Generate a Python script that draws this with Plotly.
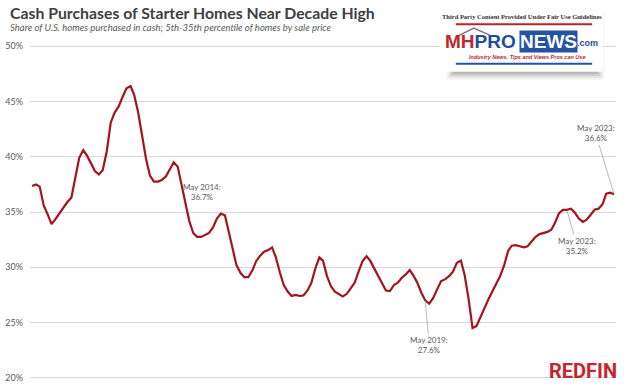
import pandas as pd
import plotly.graph_objects as go

# ---- data ----
start_month = "2011-01-01"
cash_share = [
    37.36, 37.5, 37.3, 35.6, 34.8, 33.9, 34.35, 34.9, 35.45, 35.9, 36.3, 38.1,
    39.9, 40.6, 40.1, 39.4, 38.7, 38.4, 38.8, 40.5, 43.1, 44.0, 44.55, 45.4,
    46.2, 46.4, 45.6, 44.0, 42.0, 39.8, 38.3, 37.75, 37.75, 37.9, 38.2, 38.9,
    39.5, 39.1, 37.5, 35.6, 34.2, 33.1, 32.75, 32.75, 32.9, 33.1, 33.6, 34.4,
    34.85, 34.7, 33.3, 31.6, 30.2, 29.5, 29.1, 29.1, 29.7, 30.55, 31.05, 31.4,
    31.55, 31.8, 30.9, 29.55, 28.4, 27.8, 27.4, 27.5, 27.4, 27.45, 27.9, 28.6,
    29.9, 30.9, 30.6, 29.2, 28.3, 27.8, 27.6, 27.35, 27.6, 28.1, 28.6, 29.6,
    30.55, 31.0, 30.6, 29.9, 29.2, 28.5, 27.9, 27.85, 28.4, 28.6, 29.05, 29.35,
    29.75, 29.2, 28.6, 27.7, 27.0, 26.7, 27.2, 28.0, 28.75, 28.9, 29.2, 29.6,
    30.4, 30.6, 29.3, 27.1, 24.5, 24.7, 25.5, 26.35, 27.1, 27.8, 28.5, 29.2,
    30.2, 31.5, 31.95, 32.0, 31.9, 31.8, 31.9, 32.3, 32.75, 33.0, 33.1, 33.2,
    33.4, 34.1, 34.9, 35.2, 35.2, 35.3, 34.95, 34.4, 34.1, 34.3, 34.75, 35.2,
    35.3, 35.7, 36.65, 36.75, 36.6,
]
months = pd.date_range(start_month, periods=len(cash_share), freq="MS")

y_ticks = [20, 25, 30, 35, 40, 45, 50]
y_tick_labels = ["20%", "25%", "30%", "35%", "40%", "45%", "50%"]

title_text = "Cash Purchases of Starter Homes Near Decade High"
subtitle_text = "Share of U.S. homes purchased in cash; 5th-35th percentile of homes by sale price"

# callouts: (index into series, first line, second line)
callouts = [
    (100, "May 2019:", "27.6%"),
    (136, "May 2023:", "35.2%"),
    (148, "May 2023:", "36.6%"),
]
note_2014 = (40, "May 2014:", "36.7%")

# ---- layout geometry ----
W, H = 624, 388
ML, MR, MT, MB = 27, 8, 44, 5
PW, PH = W - ML - MR, H - MT - MB


def px(xp):
    return (xp - ML) / PW


def py(yp):
    return (H - MB - yp) / PH


LINE = "#A3141E"
TXT = "#595959"

fig = go.Figure()
fig.add_trace(go.Scatter(
    x=months, y=cash_share, mode="lines",
    line=dict(color=LINE, width=2.2),
    hoverinfo="skip", showlegend=False,
))

annotations = []
# title + subtitle
annotations.append(dict(
    text=f"<b>{title_text}</b>", xref="paper", yref="paper",
    x=px(5), y=py(12), xanchor="left", yanchor="middle", showarrow=False,
    font=dict(family="Lato, Open Sans, sans-serif", size=15.8, color="#404040"),
))
annotations.append(dict(
    text=f"<i>{subtitle_text}</i>", xref="paper", yref="paper",
    x=px(5), y=py(27), xanchor="left", yanchor="middle", showarrow=False,
    font=dict(family="Lato, Open Sans, sans-serif", size=9.5, color=TXT),
))

# callouts with leader lines
offsets = {100: (4, 45), 136: (10, 36), 148: (-18.5, -61)}
for idx, l1, l2 in callouts:
    ax, ay = offsets[idx]
    annotations.append(dict(
        x=months[idx], y=cash_share[idx], text=f"{l1}<br>{l2}",
        showarrow=True, arrowhead=0, arrowwidth=0.8, arrowcolor="#A6A6A6",
        ax=ax, ay=ay, standoff=1,
        font=dict(family="Lato, Open Sans, sans-serif", size=8, color=TXT),
    ))
i14, a, b = note_2014
annotations.append(dict(
    x=months[i14], y=36.7, text=f"{a}<br>{b}", showarrow=False,
    xshift=13, yshift=1.5,
    font=dict(family="Lato, Open Sans, sans-serif", size=8, color=TXT),
))

# REDFIN wordmark
annotations.append(dict(
    text="<b>REDFIN</b>", xref="paper", yref="paper",
    x=px(619), y=py(374), xanchor="right", yanchor="middle", showarrow=False,
    font=dict(family="Liberation Sans Narrow, Roboto, sans-serif", size=20, color="#C4262E"),
))

# MHPRONEWS badge (text parts)
annotations.append(dict(
    text="<b>Third Party Content Provided Under Fair Use Guidelines</b>",
    xref="paper", yref="paper", x=px(522), y=py(16), xanchor="center", yanchor="middle",
    showarrow=False,
    font=dict(family="Liberation Serif, serif", size=6.5, color="#333333"),
))
annotations.append(dict(
    text="<b><span style='color:#C0272D'>MH</span><span style='color:#1F4E9A'>PRO</span></b>",
    xref="paper", yref="paper", x=px(518), y=py(41), xanchor="right", yanchor="middle",
    showarrow=False,
    font=dict(family="Liberation Sans Narrow, Liberation Sans, sans-serif", size=19),
))
annotations.append(dict(
    text="<b>NEWS</b>", xref="paper", yref="paper", x=px(519), y=py(41),
    xanchor="left", yanchor="middle", showarrow=False, bgcolor="#2453A4", borderpad=0,
    font=dict(family="Liberation Sans Narrow, Liberation Sans, sans-serif", size=19, color="white"),
))
annotations.append(dict(
    text="<b>.com</b>", xref="paper", yref="paper", x=px(575), y=py(43),
    xanchor="left", yanchor="middle", showarrow=False,
    font=dict(family="Liberation Sans Narrow, Liberation Sans, sans-serif", size=9, color="#1F4E9A"),
))
annotations.append(dict(
    text="<b><i>Industry News, Tips and Views Pros can Use</i></b>",
    xref="paper", yref="paper", x=px(527), y=py(57), xanchor="center", yanchor="middle",
    showarrow=False,
    font=dict(family="Liberation Sans Narrow, Liberation Sans, sans-serif", size=5.5, color="#C0272D"),
))

shapes = []
# badge shadow + box
for k, (op, dy) in enumerate([(0.08, 10), (0.12, 8), (0.18, 6), (0.25, 4)]):
    shapes.append(dict(type="rect", xref="paper", yref="paper", layer="above",
                       x0=px(446 + 2 * k), x1=px(604 - 2 * k), y0=py(70 + dy), y1=py(12),
                       fillcolor=f"rgba(110,110,110,{op})", line=dict(width=0)))
shapes.append(dict(type="rect", xref="paper", yref="paper", layer="above",
                   x0=px(440), x1=px(603), y0=py(72), y1=py(8),
                   fillcolor="white", line=dict(width=0)))
shapes.append(dict(type="line", xref="paper", yref="paper", layer="above",
                   x0=px(455), x1=px(592), y0=py(24), y1=py(24),
                   line=dict(color="#B3262C", width=2)))
shapes.append(dict(type="line", xref="paper", yref="paper", layer="above",
                   x0=px(455), x1=px(592), y0=py(64), y1=py(64),
                   line=dict(color="#2453A4", width=2)))
# roof over "MH"
shapes.append(dict(type="path", xref="paper", yref="paper", layer="above",
                   path=f"M {px(457)},{py(36)} L {px(473)},{py(28)} L {px(489)},{py(35)}",
                   line=dict(color="#8C6E6E", width=1.5)))

fig.update_layout(
    width=W, height=H,
    margin=dict(l=ML, r=MR, t=MT, b=MB),
    paper_bgcolor="white", plot_bgcolor="white",
    xaxis=dict(
        range=[pd.Timestamp("2010-12-16"), pd.Timestamp("2023-05-16")],
        showticklabels=False, showgrid=False, zeroline=False, showline=False, ticks="",
    ),
    yaxis=dict(
        range=[19.8, 50.2], tickvals=y_ticks, ticktext=y_tick_labels,
        showgrid=True, gridcolor="#D9D9D9", gridwidth=1, zeroline=False, showline=False,
        ticks="", ticklabelstandoff=6,
        tickfont=dict(family="Lato, Open Sans, sans-serif", size=9, color=TXT),
    ),
    annotations=annotations,
    shapes=shapes,
    showlegend=False,
)

fig.write_html(
    "out.html",
    config={"displayModeBar": False},
    post_script="document.body.style.margin='0';document.body.style.overflow='hidden';",
)
